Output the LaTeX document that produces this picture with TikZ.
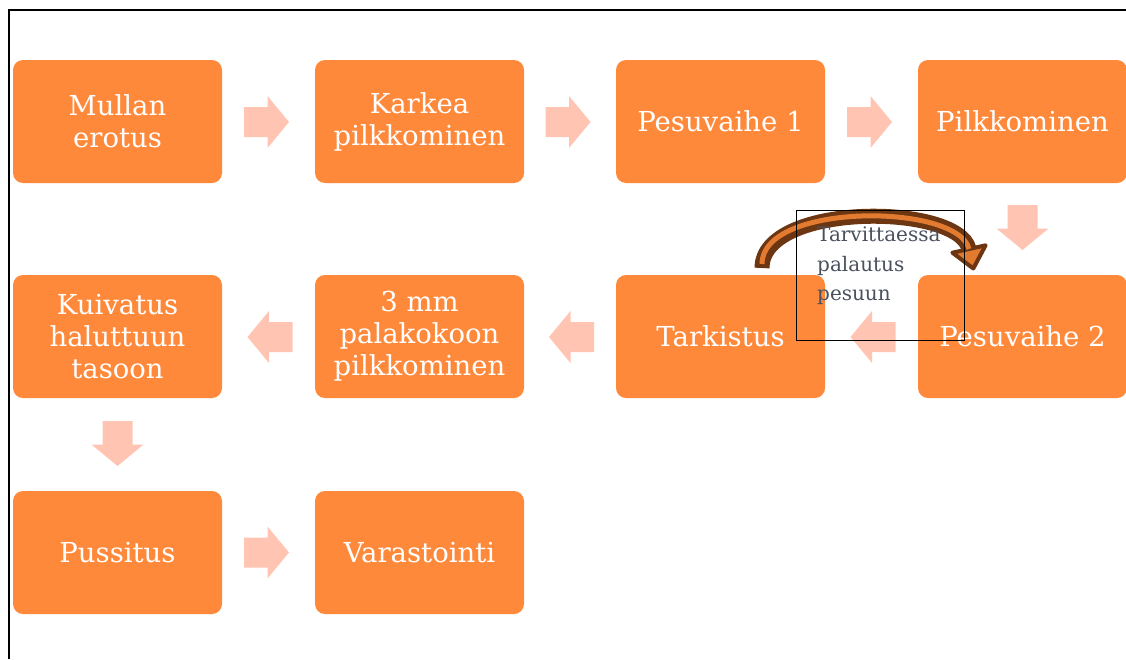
\documentclass[tikz,border=0pt]{standalone}
\usepackage{fontspec}
\setmainfont{DejaVu Serif}
\usetikzlibrary{calc}
\definecolor{boxor}{RGB}{255,137,58}
\definecolor{arrpe}{RGB}{255,196,178}
\definecolor{cbrown}{RGB}{108,54,18}
\definecolor{corange}{RGB}{226,122,48}
\definecolor{ntext}{RGB}{74,80,94}
\begin{document}
\begin{tikzpicture}[x=1pt,y=-1pt,
  stepbox/.style={fill=boxor, rounded corners=10pt, minimum width=209pt, minimum height=123pt,
    inner sep=0pt, text=white, align=center, font=\fontsize{27.5}{32}\selectfont},
  barrow/.pic={\fill[arrpe] (-22.5,-15) -- (1,-15) -- (1,-26) -- (22.5,0) -- (1,26) -- (1,15) -- (-22.5,15) -- cycle;}]
\useasboundingbox (0,0) rectangle (1126,659);
\draw[line width=1.2pt] (9,659) -- (9,10) -- (1126,10);

\node[stepbox] (n1) at (117.5,121.5) {Mullan\\erotus};
\node[stepbox] (n2) at (419.5,121.5) {Karkea\\pilkkominen};
\node[stepbox] (n3) at (720.5,121.5) {Pesuvaihe 1};
\node[stepbox] (n4) at (1022.5,121.5) {Pilkkominen};
\node[stepbox] (n5) at (1022.5,336.5) {Pesuvaihe 2};
\node[stepbox] (n6) at (720.5,336.5) {Tarkistus};
\node[stepbox] (n7) at (419.5,336.5) {3 mm\\palakokoon\\pilkkominen};
\node[stepbox] (n8) at (117.5,336.5) {Kuivatus\\haluttuun\\tasoon};
\node[stepbox] (n9) at (117.5,552.5) {Pussitus};
\node[stepbox] (n10) at (419.5,552.5) {Varastointi};

\pic at ($(n1.east)!0.5!(n2.west)+(-2,0.5)$) {barrow};
\pic at ($(n2.east)!0.5!(n3.west)+(-2,0.5)$) {barrow};
\pic at ($(n3.east)!0.5!(n4.west)+(-2,0.5)$) {barrow};
\pic[rotate=-90] at ($(n4.south)!0.5!(n5.north)+(0,-1.5)$) {barrow};
\pic[rotate=180] at ($(n5.west)!0.5!(n6.east)+(1.5,0.5)$) {barrow};
\pic[rotate=180] at ($(n6.west)!0.5!(n7.east)+(1.5,0.5)$) {barrow};
\pic[rotate=180] at ($(n7.west)!0.5!(n8.east)+(1.5,0.5)$) {barrow};
\pic[rotate=-90] at ($(n8.south)!0.5!(n9.north)+(0,-1)$) {barrow};
\pic at ($(n9.east)!0.5!(n10.west)+(-2,0)$) {barrow};

\coordinate (cs) at (762,268);
\coordinate (ce) at (969,249);
\draw[cbrown, line width=15pt] (cs) .. controls (762,202) and (958,203) .. (ce);
\filldraw[fill=corange, draw=cbrown, line width=4pt, line join=round]
  (985.6,245.3) -- (973.3,268.5) -- (952.4,252.7) -- cycle;
\draw[corange, line width=5pt, shorten <=4pt] (cs) .. controls (762,202) and (958,203) .. (ce);

\node[draw=black, line width=1pt, minimum width=168pt, minimum height=130pt, inner sep=0pt,
  anchor=north west] (tb) at (796,210) {};
\node[anchor=north west, text=ntext, align=left, inner sep=0pt,
  font=\fontsize{20}{29.5}\selectfont] (tt) at (817,227) {Tarvittaessa\\palautus\\pesuun};
\end{tikzpicture}
\end{document}
